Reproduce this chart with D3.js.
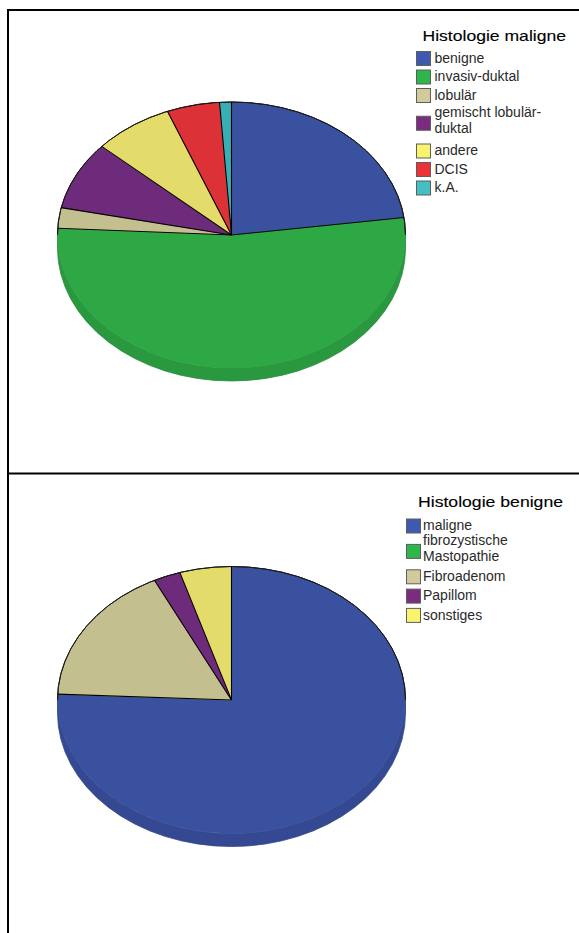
<!DOCTYPE html>
<html>
<head>
<meta charset="utf-8">
<script src="https://cdn.jsdelivr.net/npm/d3@7"></script>
<style>
  html, body { margin: 0; padding: 0; background: #fff; }
  svg { display: block; }
  text { font-family: "Liberation Sans", Arial, sans-serif; }
</style>
</head>
<body>
<script>
// ---- data -------------------------------------------------------------
const maligneTitle = "Histologie maligne";
const maligneCategories = ["benigne", "invasiv-duktal", "lobulär", "gemischt lobulär-\nduktal", "andere", "DCIS", "k.A."];
const maligneValues = [22.9, 52.9, 2.5, 8.3, 7.4, 4.9, 1.1];

const benigneTitle = "Histologie benigne";
const benigneCategories = ["maligne", "fibrozystische\nMastopathie", "Fibroadenom", "Papillom", "sonstiges"];
const benigneValues = [75.7, 0, 17.0, 2.5, 4.8];

// ---- styling ----------------------------------------------------------
const faceColors   = ["#3A51A0", "#2EA845", "#C4BF8E", "#6E2A7B", "#E4DC6A", "#DB3137", "#38AFB5"];
const swatchColors = ["#3D5AB0", "#2FB64A", "#D3CA9B", "#7A2C7F", "#F9F36E", "#EC3236", "#44C0C4"];

const W = 579, H = 933;
const svg = d3.select("body").append("svg").attr("width", W).attr("height", H);

// table-cell frame lines
const frame = svg.append("g").attr("stroke", "#000").attr("stroke-width", 2);
frame.append("line").attr("x1", 7).attr("x2", W).attr("y1", 10).attr("y2", 10);
frame.append("line").attr("x1", 8).attr("x2", 8).attr("y1", 9).attr("y2", H);
frame.append("line").attr("x1", 7).attr("x2", W).attr("y1", 473.5).attr("y2", 473.5);

function drawPie(cfg) {
  const rx = 174, ry = cfg.ry, depth = 13;
  const k = ry / rx;
  const D = depth / k;
  const g = svg.append("g").attr("transform", `translate(${cfg.cx},${cfg.cy}) scale(1,${k})`);

  const arcs = d3.pie().sort(null).value(d => d)(cfg.values);
  const arcGen = d3.arc().innerRadius(0).outerRadius(rx);
  const pt = (a, dy = 0) => [rx * Math.sin(a), -rx * Math.cos(a) + dy];

  // side wall on the front half of the disc
  arcs.forEach((a, i) => {
    const s = Math.max(a.startAngle, Math.PI / 2);
    const e = Math.min(a.endAngle, 3 * Math.PI / 2);
    if (s >= e) return;
    const p = d3.path();
    const p0 = pt(s), p1 = pt(e);
    p.moveTo(p0[0], p0[1]);
    p.arc(0, 0, rx, s - Math.PI / 2, e - Math.PI / 2, false);
    p.lineTo(p1[0], p1[1] + D);
    p.arc(0, D, rx, e - Math.PI / 2, s - Math.PI / 2, true);
    p.closePath();
    const c = d3.color(faceColors[i]).darker(0.28);
    g.append("path").attr("d", p.toString())
      .attr("fill", c).attr("stroke", c.darker(0.2)).attr("stroke-width", 0.8)
      .attr("vector-effect", "non-scaling-stroke");
  });

  // top faces
  g.selectAll("path.face").data(arcs).join("path")
    .attr("class", "face")
    .attr("d", arcGen)
    .attr("fill", (d, i) => faceColors[i])
    .attr("stroke", (d, i) => faceColors[i])
    .attr("stroke-width", 0.5)
    .attr("vector-effect", "non-scaling-stroke");

  // back outline of the disc
  g.append("path").attr("d", d3.arc().innerRadius(rx).outerRadius(rx)
      .startAngle(-Math.PI / 2).endAngle(Math.PI / 2)())
    .attr("fill", "none").attr("stroke", "#1a1a1a").attr("stroke-width", 1)
    .attr("vector-effect", "non-scaling-stroke");

  // slice boundaries
  arcs.filter(a => a.endAngle > a.startAngle).forEach(a => {
    const q = pt(a.startAngle);
    g.append("line").attr("x1", 0).attr("y1", 0).attr("x2", q[0]).attr("y2", q[1])
      .attr("stroke", "#000").attr("stroke-width", 1.1)
      .attr("vector-effect", "non-scaling-stroke");
  });
}

function drawLegend(cfg) {
  const lg = svg.append("g");
  lg.append("text").attr("x", cfg.titleX).attr("y", cfg.titleY)
    .attr("font-size", 15).attr("fill", "#000")
    .attr("stroke", "#000").attr("stroke-width", 0.12)
    .attr("textLength", cfg.titleW).attr("lengthAdjust", "spacingAndGlyphs")
    .text(cfg.title);

  let center = cfg.firstCenter, prevH = null;
  cfg.categories.forEach((label, i) => {
    const lines = label.split("\n");
    const h = lines.length > 1 ? cfg.doubleH : cfg.singleH;
    if (prevH !== null) center += (prevH + h) / 2;
    prevH = h;
    lg.append("rect")
      .attr("x", cfg.swX + 0.5).attr("y", center - 7 + 0.5)
      .attr("width", 14).attr("height", 14)
      .attr("fill", swatchColors[i]).attr("stroke", "#5e5e5e").attr("stroke-width", 1);
    if (lines.length === 1) {
      lg.append("text").attr("font-size", 14).attr("fill", "#2a2a2a")
        .attr("x", cfg.txX).attr("y", center + 4.8).text(label);
    } else {
      lines.forEach((ln, j) => {
        lg.append("text").attr("font-size", 14).attr("fill", "#2a2a2a")
          .attr("x", cfg.txX)
          .attr("y", center - cfg.lineGap / 2 + 2 + j * cfg.lineGap).text(ln);
      });
    }
  });
}

drawPie({ cx: 231.5, cy: 235, ry: 133, values: maligneValues });
drawLegend({
  title: maligneTitle, categories: maligneCategories,
  titleX: 422.5, titleY: 40.5, titleW: 143.5,
  swX: 416, txX: 434.5, firstCenter: 58, singleH: 18.5, doubleH: 37, lineGap: 15.5
});

drawPie({ cx: 231.5, cy: 700, ry: 133.5, values: benigneValues });
drawLegend({
  title: benigneTitle, categories: benigneCategories,
  titleX: 418, titleY: 506.5, titleW: 145,
  swX: 406, txX: 423, firstCenter: 525.5, singleH: 19.3, doubleH: 31.5, lineGap: 15.5
});
</script>
</body>
</html>
